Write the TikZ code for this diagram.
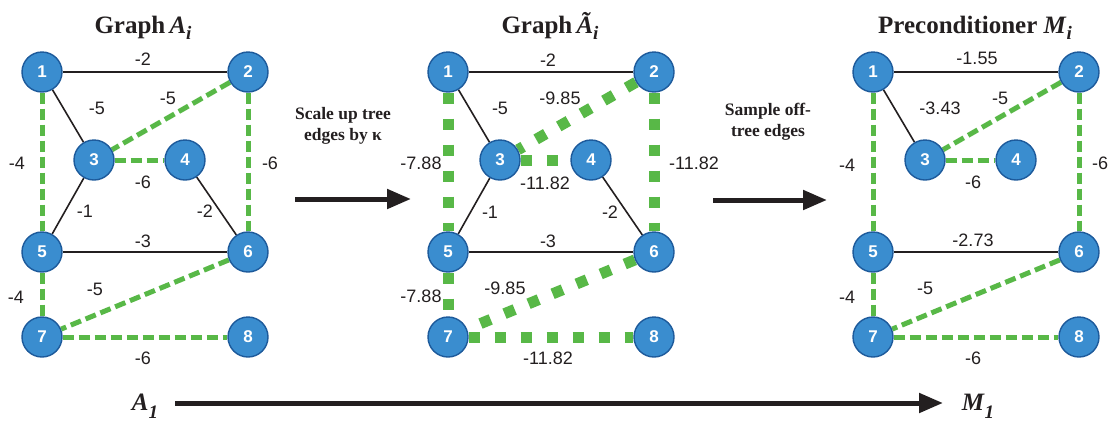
\documentclass[tikz,border=0pt]{standalone}
\usepackage{fontspec}
\setmainfont{Liberation Serif}
\newfontfamily\labfont{Liberation Sans}
\usetikzlibrary{arrows.meta,backgrounds}
\definecolor{nodefill}{HTML}{3A8DCF}
\definecolor{nodeedge}{HTML}{1D5A9B}
\definecolor{edgegreen}{HTML}{58B847}
\definecolor{ink}{HTML}{231F20}
\newcommand{\lowsub}[2]{\raisebox{-#2}{\fontsize{19}{19}\selectfont\bfseries\itshape #1}}
\tikzset{
 vtx/.style={circle, fill=nodefill, draw=nodeedge, line width=1.4pt, minimum size=40pt, inner sep=0pt, text=white, font=\labfont\bfseries\fontsize{17}{17}\selectfont},
 tree/.style={draw=ink, line width=1.6pt},
 treebold/.style={draw=ink, line width=2.8pt},
 offt/.style={draw=edgegreen, line width=5pt, dash pattern=on 11pt off 5pt},
 scaledt/.style={draw=edgegreen, line width=11pt, dash pattern=on 11pt off 15pt},
 wlab/.style={font=\labfont\fontsize{18}{18}\selectfont, text=ink, inner sep=0pt},
 ttl/.style={font=\bfseries\fontsize{25}{25}\selectfont, text=ink, inner sep=0pt, anchor=base},
 bigarrow/.style={draw=ink, line width=5pt, -{Triangle[length=24pt,width=19pt]}},
 note/.style={font=\bfseries\fontsize{17.5}{21}\selectfont, align=center, text=ink, inner sep=0pt},
}
\begin{document}
\begin{tikzpicture}[x=1pt,y=-1pt]
\useasboundingbox (0,0) rectangle (1114,421);
% nodes
\foreach \p/\o in {a/0,b/406,c/831}{
 \node[vtx] (\p1) at (42+\o,72) {1};
 \node[vtx] (\p2) at (248+\o,72) {2};
 \node[vtx] (\p3) at (94+\o,160) {3};
 \node[vtx] (\p4) at (185+\o,160) {4};
 \node[vtx] (\p5) at (42+\o,252) {5};
 \node[vtx] (\p6) at (248+\o,252) {6};
 \node[vtx] (\p7) at (42+\o,337) {7};
 \node[vtx] (\p8) at (248+\o,337) {8};
}
\begin{scope}[on background layer]
 % graph A
 \draw[tree] (a1) -- (a2);
 \draw[tree] (a1) -- (a3);
 \draw[tree] (a3) -- (a5);
 \draw[tree] (a4) -- (a6);
 \draw[treebold] (a5) -- (a6);
 \draw[offt] (a2) -- (a3);
 \draw[offt] (a1) -- (a5);
 \draw[offt] (a2) -- (a6);
 \draw[offt] (a3) -- (a4);
 \draw[offt] (a5) -- (a7);
 \draw[offt] (a6) -- (a7);
 \draw[offt] (a7) -- (a8);
 % graph A tilde
 \draw[tree] (b1) -- (b2);
 \draw[tree] (b1) -- (b3);
 \draw[tree] (b3) -- (b5);
 \draw[tree] (b4) -- (b6);
 \draw[treebold] (b5) -- (b6);
 \draw[scaledt] (b2) -- (b3);
 \draw[scaledt] (b1) -- (b5);
 \draw[scaledt] (b2) -- (b6);
 \draw[scaledt] (b3) -- (b4);
 \draw[scaledt] (b5) -- (b7);
 \draw[scaledt] (b6) -- (b7);
 \draw[scaledt] (b7) -- (b8);
 % preconditioner M
 \draw[tree] (c1) -- (c2);
 \draw[tree] (c1) -- (c3);
 \draw[treebold] (c5) -- (c6);
 \draw[offt] (c2) -- (c3);
 \draw[offt] (c1) -- (c5);
 \draw[offt] (c2) -- (c6);
 \draw[offt] (c3) -- (c4);
 \draw[offt] (c5) -- (c7);
 \draw[offt] (c6) -- (c7);
 \draw[offt] (c7) -- (c8);
\end{scope}
% weights A
\node[wlab] (la12) at (143,59) {-2};
\node[wlab] (la13) at (97,108) {-5};
\node[wlab] (la23) at (168,98) {-5};
\node[wlab] (la15) at (17,163) {-4};
\node[wlab] (la26) at (270,163) {-6};
\node[wlab] (la34) at (143,182) {-6};
\node[wlab] (la35) at (85,211) {-1};
\node[wlab] (la46) at (205,211) {-2};
\node[wlab] (la56) at (143,241) {-3};
\node[wlab] (la57) at (16,297) {-4};
\node[wlab] (la67) at (95,289) {-5};
\node[wlab] (la78) at (143,358) {-6};
% weights A tilde
\node[wlab] (lb12) at (548,60) {-2};
\node[wlab] (lb13) at (500,108) {-5};
\node[wlab] (lb23) at (560,98) {-9.85};
\node[wlab] (lb15) at (421,163) {-7.88};
\node[wlab] (lb26) at (694,163) {-11.82};
\node[wlab] (lb34) at (545,183) {-11.82};
\node[wlab] (lb35) at (490,212) {-1};
\node[wlab] (lb46) at (610,212) {-2};
\node[wlab] (lb56) at (548,241) {-3};
\node[wlab] (lb57) at (421,296) {-7.88};
\node[wlab] (lb67) at (505,288) {-9.85};
\node[wlab] (lb78) at (548,358) {-11.82};
% weights M
\node[wlab] (lc12) at (977,58) {-1.55};
\node[wlab] (lc13) at (940,108) {-3.43};
\node[wlab] (lc23) at (1000,98) {-5};
\node[wlab] (lc15) at (847,165) {-4};
\node[wlab] (lc26) at (1100,163) {-6};
\node[wlab] (lc34) at (973,182) {-6};
\node[wlab] (lc56) at (973,240) {-2.73};
\node[wlab] (lc57) at (847,297) {-4};
\node[wlab] (lc67) at (925,288) {-5};
\node[wlab] (lc78) at (973,358) {-6};
% titles
\node[ttl] (ta) at (143,33) {Graph\,\textit{A}\lowsub{i}{6pt}};
\node[ttl] (tb) at (550,33) {Graph\,\textit{Ã}\lowsub{i}{6pt}};
\node[ttl] (tc) at (975,33) {Preconditioner \textit{M}\lowsub{i}{6pt}};
% transformation arrows
\node[note] (n1) at (343,126) {Scale up tree\\edges by κ};
\node[note] (n2) at (768,122) {Sample off-\\tree edges};
\coordinate (s1) at (295,199);
\coordinate (e1) at (411,199);
\coordinate (s2) at (713,200);
\coordinate (e2) at (827,200);
\draw[bigarrow] (s1) -- (e1);
\draw[bigarrow] (s2) -- (e2);
% bottom
\node[ttl] (A1) at (145,410) {\textit{A}\lowsub{1}{8pt}};
\node[ttl] (M1) at (978,410) {\textit{M}\lowsub{1}{8pt}};
\coordinate (s3) at (175,403);
\coordinate (e3) at (943,403);
\draw[bigarrow] (s3) -- (e3);
\end{tikzpicture}
\end{document}
